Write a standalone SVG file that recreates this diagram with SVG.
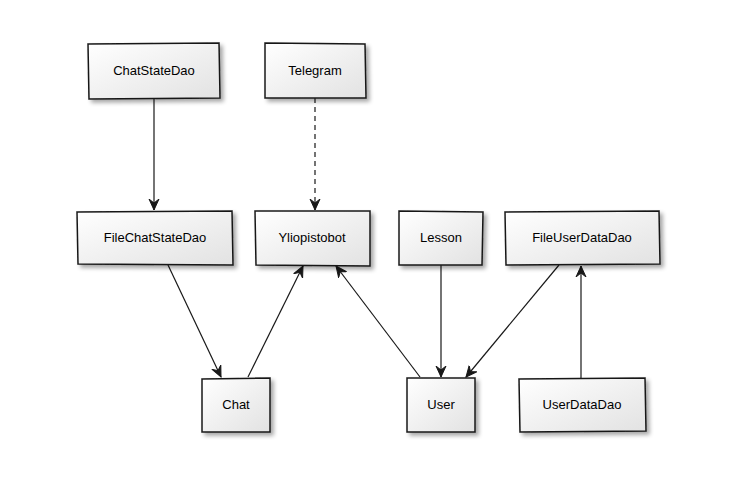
<svg xmlns="http://www.w3.org/2000/svg" width="755" height="485" viewBox="0 0 755 485">
<style>
.box{fill:url(#g);stroke:#181818;stroke-width:1.5;filter:url(#sh)}
.lbl{font-family:"Liberation Sans",Arial,sans-serif;font-size:13px;fill:#000;text-anchor:middle}
.edge{stroke:#181818;stroke-width:1.2;fill:none;marker-end:url(#arr)}
.dash{stroke-dasharray:5,4}
</style>
<defs>
<linearGradient id="g" x1="0" y1="0" x2="1" y2="1">
<stop offset="0" stop-color="#ffffff"/>
<stop offset="1" stop-color="#e2e2e2"/>
</linearGradient>
<filter id="sh" x="-10%" y="-10%" width="130%" height="140%">
<feGaussianBlur in="SourceAlpha" stdDeviation="2"/>
<feOffset dx="3" dy="3" result="b"/>
<feComponentTransfer><feFuncA type="linear" slope="0.35"/></feComponentTransfer>
<feMerge><feMergeNode/><feMergeNode in="SourceGraphic"/></feMerge>
</filter>
<marker id="arr" markerWidth="12" markerHeight="12" viewBox="0 0 12 12" refX="11" refY="6" orient="auto" markerUnits="userSpaceOnUse">
<path d="M0,1 L11,6 L0,11 L4,6 Z" fill="#181818" stroke="#181818" stroke-width="1"/>
</marker>
</defs>
<g id="connectors">
<path class="edge" d="M154,98 L154,210"/>
<path class="edge dash" d="M315,98 L315,210"/>
<path class="edge" d="M168,265 L221,377"/>
<path class="edge" d="M248,377 L303,266"/>
<path class="edge" d="M420,377 L336,266"/>
<path class="edge" d="M441,265 L441,377"/>
<path class="edge" d="M559,265 L466,377"/>
<path class="edge" d="M581,378 L581,266"/>
</g>
<g id="ChatStateDao"><path class="box" d="M88,44 L219,43 L220,98 L89,99 Z"/><text class="lbl" x="154" y="75">ChatStateDao</text></g>
<g id="Telegram"><path class="box" d="M265,43 L365,44 L366,98 L265,98 Z"/><text class="lbl" x="315" y="75">Telegram</text></g>
<g id="FileChatStateDao"><path class="box" d="M77,212 L232,211 L233,265 L78,264 Z"/><text class="lbl" x="155" y="242">FileChatStateDao</text></g>
<g id="Yliopistobot"><path class="box" d="M255,211 L370,211 L370,266 L256,265 Z"/><text class="lbl" x="312" y="242">Yliopistobot</text></g>
<g id="Lesson"><path class="box" d="M399,211 L483,212 L482,265 L399,265 Z"/><text class="lbl" x="441" y="242">Lesson</text></g>
<g id="FileUserDataDao"><path class="box" d="M505,212 L659,211 L660,264 L506,265 Z"/><text class="lbl" x="582" y="242">FileUserDataDao</text></g>
<g id="Chat"><path class="box" d="M202,379 L270,378 L270,432 L202,432 Z"/><text class="lbl" x="236" y="409">Chat</text></g>
<g id="User"><path class="box" d="M407,378 L475,378 L475,432 L407,432 Z"/><text class="lbl" x="441" y="409">User</text></g>
<g id="UserDataDao"><path class="box" d="M519,379 L645,378 L646,431 L520,432 Z"/><text class="lbl" x="582" y="409">UserDataDao</text></g>
</svg>
